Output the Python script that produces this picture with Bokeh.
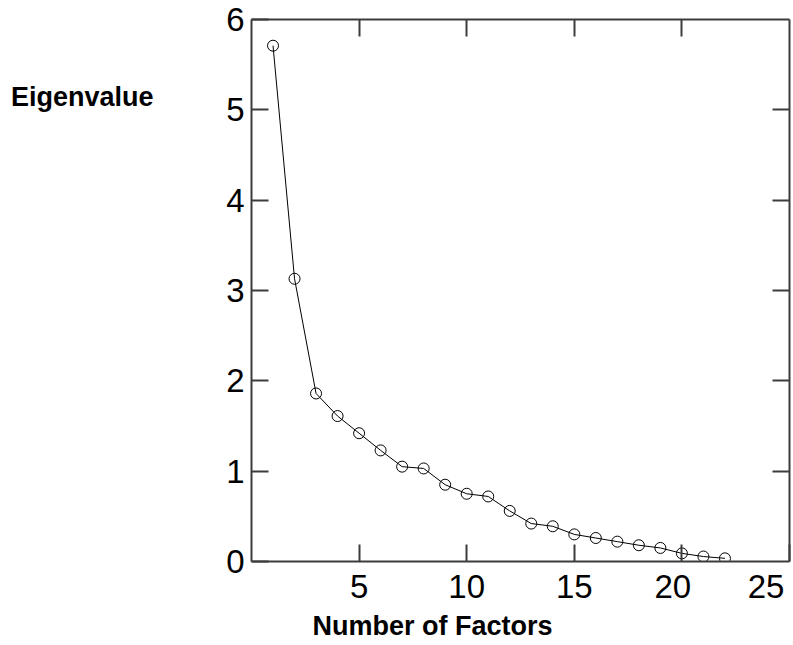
from bokeh.plotting import figure
from bokeh.models import Range1d, LinearAxis, FixedTicker, ColumnDataSource
from bokeh.embed import file_html
from bokeh.resources import INLINE

# ---- data ----
factors = list(range(1, 23))
eigenvalues = [5.71, 3.13, 1.86, 1.61, 1.42, 1.23, 1.05, 1.03, 0.85, 0.75, 0.72,
               0.56, 0.42, 0.39, 0.30, 0.26, 0.22, 0.18, 0.15, 0.09, 0.055, 0.035]
x_ticks = [5, 10, 15, 20, 25]
y_ticks = [0, 1, 2, 3, 4, 5, 6]
x_title = "Number of Factors"
y_title = "Eigenvalue"

AXIS_COLOR = "#3c3c3c"
TICK_FONT = "Liberation Sans"
TITLE_FONT = "Liberation Sans"
NBSP = "\u00a0"

src = ColumnDataSource(dict(x=factors, y=eigenvalues))

p = figure(width=793, height=645, output_backend="svg", toolbar_location=None,
           x_range=Range1d(0, 25), y_range=Range1d(0, 6),
           min_border_left=251, min_border_right=4, min_border_top=19, min_border_bottom=84,
           x_axis_location=None, y_axis_location=None)
p.grid.visible = False
p.outline_line_color = None
p.background_fill_color = "white"
p.border_fill_color = "white"


def style_axis(ax, ticks, show_labels):
    ax.ticker = FixedTicker(ticks=ticks)
    ax.axis_line_color = AXIS_COLOR
    ax.axis_line_width = 2
    ax.major_tick_line_color = AXIS_COLOR
    ax.major_tick_line_width = 2
    ax.major_tick_in = 17
    ax.major_tick_out = 0
    ax.minor_tick_line_color = None
    ax.major_label_text_font = TICK_FONT
    ax.major_label_text_font_size = "33px"
    ax.major_label_text_color = "black"
    if not show_labels:
        ax.major_label_overrides = {t: "" for t in ticks}
        ax.major_label_standoff = 0


def title_axis(ax, pos, text, standoff):
    ax.ticker = FixedTicker(ticks=[pos])
    ax.major_label_overrides = {pos: text}
    ax.axis_line_color = None
    ax.major_tick_line_color = None
    ax.minor_tick_line_color = None
    ax.major_tick_in = 0
    ax.major_tick_out = 0
    ax.major_label_standoff = standoff
    ax.major_label_text_font = TITLE_FONT
    ax.major_label_text_font_style = "bold"
    ax.major_label_text_font_size = "27px"
    ax.major_label_text_color = "black"


bottom = LinearAxis()
style_axis(bottom, x_ticks, True)
bottom.major_label_standoff = 6
# the last two labels sit left of their ticks in the original
bottom.major_label_overrides = {x_ticks[3]: str(x_ticks[3]) + NBSP * 2,
                                x_ticks[4]: str(x_ticks[4]) + NBSP}
p.add_layout(bottom, "below")

left = LinearAxis()
style_axis(left, y_ticks, True)
left.major_label_standoff = 7
p.add_layout(left, "left")

top = LinearAxis()
style_axis(top, x_ticks[:-1], False)
p.add_layout(top, "above")

right = LinearAxis()
style_axis(right, y_ticks[1:-1], False)
p.add_layout(right, "right")

# axis titles, placed as in the original (horizontal, off-centre)
xt = LinearAxis()
title_axis(xt, 8.41, x_title, 3)
p.add_layout(xt, "below")

yt = LinearAxis()
title_axis(yt, 5.14, y_title, 70)
p.add_layout(yt, "left")

p.line("x", "y", source=src, line_color="black", line_width=1)
p.scatter("x", "y", source=src, marker="circle", size=11, fill_color=None,
          line_color="black", line_width=1)

open("out.html", "w").write(file_html(p, INLINE))
